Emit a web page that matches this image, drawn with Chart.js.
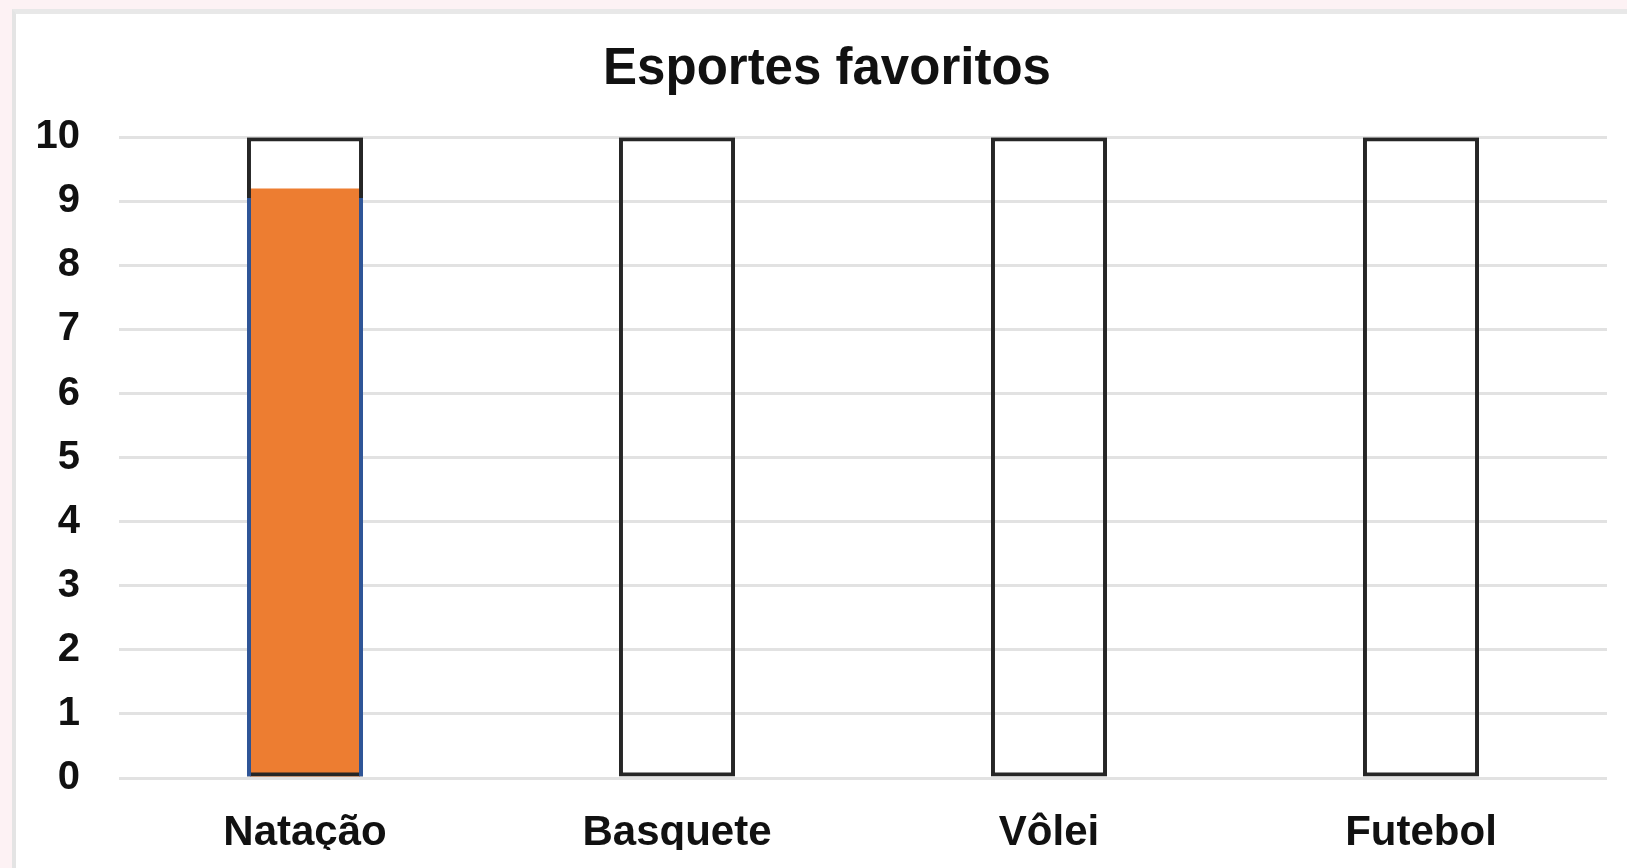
<!DOCTYPE html>
<html>
<head>
<meta charset="utf-8">
<title>Esportes favoritos</title>
<script src="https://cdn.jsdelivr.net/npm/chart.js@4.4.1/dist/chart.umd.min.js"></script>
<style>
    html, body {
        margin: 0;
        padding: 0;
        width: 1627px;
        height: 868px;
        overflow: hidden;
        background: #fdf2f4;
    }
    .frame {
        position: absolute;
        left: 12px;
        top: 9px;
        width: 1615px;
        height: 859px;
        background: #ffffff;
        border-left: 4px solid #e4e4e4;
        border-top: 5px solid #e8e8e8;
        box-sizing: border-box;
    }
    .frame canvas {
        display: block;
    }
</style>
</head>
<body>
<div class="frame">
    <canvas id="sportsChart" width="1611" height="854"></canvas>
</div>
<script>
// chart data
const sports = ['Natação', 'Basquete', 'Vôlei', 'Futebol'];
const frameValues = [10, 10, 10, 10];   // empty outline bars
const votes = [9.2, 0, 0, 0];           // orange fill
const votesEdge = [9.05, 0, 0, 0];      // blue side lines under the fill
const yTicks = [0, 1, 2, 3, 4, 5, 6, 7, 8, 9, 10];

const font = 'Arial, "Liberation Sans", sans-serif';

// the title sits a bit right of the canvas centre in the original
const titleShift = {
    id: 'titleShift',
    afterLayout(chart) {
        if (chart.titleBlock) chart.titleBlock.left += 31;
    }
};

const ctx = document.getElementById('sportsChart');

new Chart(ctx, {
    type: 'bar',
    data: {
        labels: sports,
        datasets: [
            {
                label: 'Contorno lateral',
                data: votesEdge,
                backgroundColor: 'rgba(0,0,0,0)',
                borderColor: '#2f5597',
                borderWidth: { left: 4, right: 4, top: 0, bottom: 0 },
                borderSkipped: false,
                barPercentage: 0.312,
                order: 1
            },
            {
                label: 'Quadro',
                data: frameValues,
                backgroundColor: 'rgba(0,0,0,0)',
                borderColor: '#262626',
                borderWidth: 4,
                borderSkipped: false,
                barPercentage: 0.312,
                order: 2
            },
            {
                label: 'Votos',
                data: votes,
                backgroundColor: '#ed7d31',
                borderWidth: 0,
                barPercentage: 0.296,
                order: 3
            }
        ]
    },
    options: {
        responsive: false,
        animation: false,
        datasets: {
            bar: { grouped: false, categoryPercentage: 1 }
        },
        layout: {
            padding: { left: 0, right: 20, top: 0, bottom: 18 }
        },
        plugins: {
            legend: { display: false },
            tooltip: { enabled: false },
            title: {
                display: true,
                text: 'Esportes favoritos',
                color: '#111111',
                font: { family: font, size: 51, weight: 'bold' },
                padding: { top: 25, bottom: 37 }
            }
        },
        scales: {
            x: {
                afterFit: (scale) => { scale.height = 72; },
                grid: { display: false },
                border: { display: false },
                ticks: {
                    color: '#111111',
                    padding: 22,
                    font: { family: font, size: 42, weight: 'bold' }
                }
            },
            y: {
                min: 0,
                max: 10,
                afterFit: (scale) => { scale.width = 103; },
                afterBuildTicks: (scale) => {
                    scale.ticks = yTicks.map(v => ({ value: v }));
                },
                grid: {
                    color: '#e2e2e2',
                    lineWidth: 3,
                    drawTicks: false
                },
                border: { display: false },
                ticks: {
                    color: '#111111',
                    padding: 39,
                    font: { family: font, size: 40, weight: 'bold' }
                }
            }
        }
    },
    plugins: [titleShift]
});
</script>
</body>
</html>
